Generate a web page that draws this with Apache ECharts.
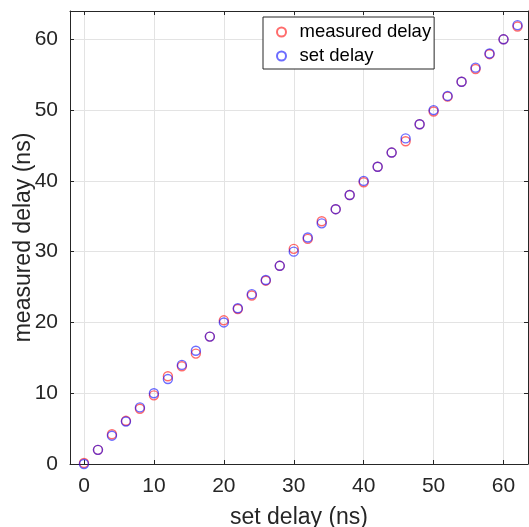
<!DOCTYPE html>
<html>
<head>
<meta charset="utf-8">
<script src="https://cdn.jsdelivr.net/npm/echarts@6/dist/echarts.min.js"></script>
<style>
  html, body { margin: 0; padding: 0; background: #fff; }
  #chart { width: 529px; height: 527px; }
</style>
</head>
<body>
<div id="chart"></div>
<script>
// Programmed delay steps (ns)
const setDelay = [0, 2, 4, 6, 8, 10, 12, 14, 16, 18, 20, 22, 24, 26, 28, 30,
                  32, 34, 36, 38, 40, 42, 44, 46, 48, 50, 52, 54, 56, 58, 60, 62];
// Delay measured for each step (ns)
const measuredDelay = [0.15, 2, 4.2, 6.1, 7.8, 9.7, 12.4, 13.8, 15.6, 18, 20.3, 21.9, 23.8, 25.9, 28, 30.4,
                       31.8, 34.3, 36, 38, 39.8, 42, 44, 45.6, 48, 49.8, 51.9, 54, 55.8, 57.9, 60, 61.8];
const xTicks = [0, 10, 20, 30, 40, 50, 60];
const yTicks = [0, 10, 20, 30, 40, 50, 60];
const seriesNames = ['measured delay', 'set delay'];

const FONT = "'Liberation Sans', Arial, Helvetica, sans-serif";
const INK = '#262626';
const X_RANGE = [-2, 63.5];
const Y_RANGE = [0, 64];

const chart = echarts.init(document.getElementById('chart'), null, { renderer: 'canvas' });

function baseAxis(range, ticks, extra) {
  return Object.assign({
    type: 'value',
    min: range[0],
    max: range[1],
    axisLine: { show: true, onZero: false, lineStyle: { color: INK, width: 1 } },
    axisTick: { show: true, inside: true, length: 4, customValues: ticks, lineStyle: { color: INK } },
    axisLabel: { show: false, customValues: ticks },
    splitLine: { show: false }
  }, extra);
}

const option = {
  animation: false,
  backgroundColor: '#fff',
  grid: { left: 70, right: 1, top: 11, bottom: 63, containLabel: false, outerBoundsMode: 'none' },
  legend: {
    data: seriesNames,
    orient: 'vertical',
    left: 263,
    top: 17,
    padding: [5, 3, 3, 13],
    itemGap: 4,
    itemWidth: 26,
    itemHeight: 9,
    backgroundColor: '#fff',
    borderColor: INK,
    borderWidth: 1,
    borderRadius: 0,
    textStyle: { fontFamily: FONT, fontSize: 18.5, color: '#000', lineHeight: 20, padding: [0, 0, 0, 0] }
  },
  xAxis: [
    baseAxis(X_RANGE, xTicks, {
      position: 'bottom',
      name: 'set delay (ns)',
      nameLocation: 'middle',
      nameGap: 42,
      nameMoveOverlap: false,
      nameTextStyle: { fontFamily: FONT, fontSize: 23, color: INK },
      axisLabel: { show: true, customValues: xTicks, margin: 12, fontFamily: FONT, fontSize: 21, color: INK },
      splitLine: { show: true, customValues: xTicks, lineStyle: { color: '#e3e3e3', width: 1 } }
    }),
    baseAxis(X_RANGE, xTicks, { position: 'top' })
  ],
  yAxis: [
    baseAxis(Y_RANGE, yTicks, {
      position: 'left',
      name: 'measured delay (ns)',
      nameLocation: 'middle',
      nameGap: 35,
      nameMoveOverlap: false,
      nameTextStyle: { fontFamily: FONT, fontSize: 23, color: INK },
      axisLabel: { show: true, customValues: yTicks, margin: 12, fontFamily: FONT, fontSize: 21, color: INK },
      splitLine: { show: true, customValues: yTicks, lineStyle: { color: '#e3e3e3', width: 1 } }
    }),
    baseAxis(Y_RANGE, yTicks, { position: 'right' })
  ],
  series: [
    {
      name: seriesNames[0],
      type: 'scatter',
      symbol: 'circle',
      symbolSize: 9,
      clip: false,
      itemStyle: { color: 'transparent', borderColor: 'rgba(255,0,0,0.72)', borderWidth: 1.4 },
      emphasis: { disabled: true },
      data: setDelay.map((x, i) => [x, measuredDelay[i]])
    },
    {
      name: seriesNames[1],
      type: 'scatter',
      symbol: 'circle',
      symbolSize: 9,
      clip: false,
      itemStyle: { color: 'transparent', borderColor: 'rgba(0,0,255,0.72)', borderWidth: 1.4 },
      emphasis: { disabled: true },
      data: setDelay.map(x => [x, x])
    }
  ]
};

chart.setOption(option);
</script>
</body>
</html>
